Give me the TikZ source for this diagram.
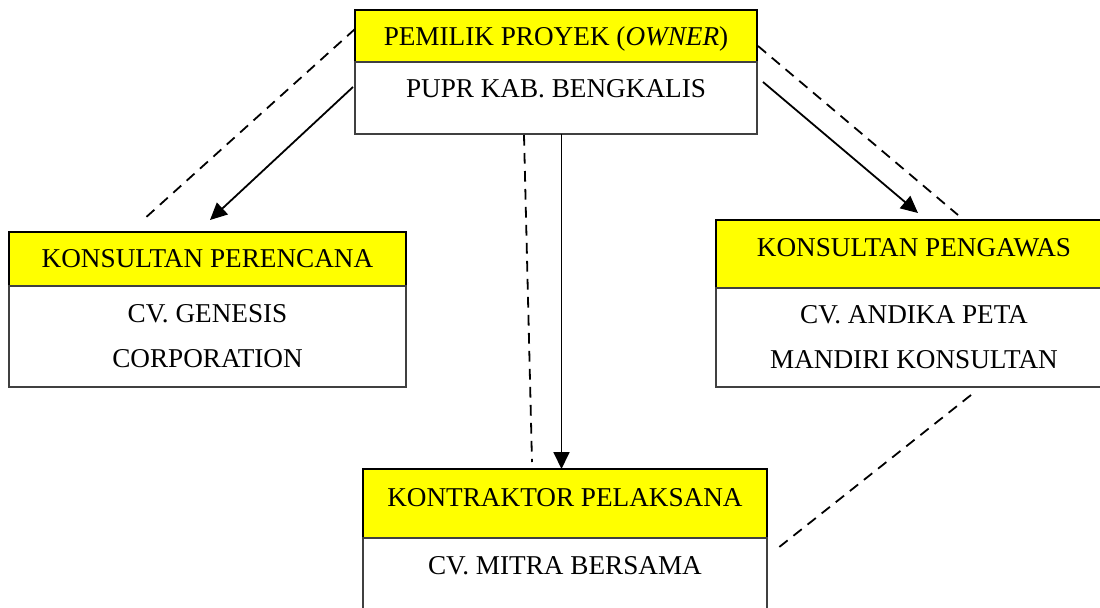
\documentclass[tikz,border=0pt]{standalone}
\usepackage{fontspec}
\setmainfont{Liberation Serif}
\usetikzlibrary{arrows.meta, positioning, calc}
\definecolor{hdyellow}{RGB}{255,255,0}

\begin{document}
\begin{tikzpicture}[
    x=0.5pt, y=-0.5pt,
    node distance=0pt,
    font=\fontsize{13.6}{22.5}\selectfont,
    headbox/.style={rectangle, draw=black, line width=1pt, fill=hdyellow, outer sep=0pt, align=center},
    bodybox/.style={rectangle, draw=black!75, line width=0.6pt, fill=white, outer sep=0pt, align=center},
    lift/.style={text height=9pt, text depth=#1},
    arrow/.style={-{Triangle[length=8.5pt, width=8pt]}, line width=0.9pt},
    dashline/.style={line width=0.9pt, dash pattern=on 5.3pt off 3.7pt}
]
\useasboundingbox (0,0) rectangle (1100,607);
\clip (0,0) rectangle (1100,607);

% owner
\node[headbox, anchor=north west, minimum width=201pt, minimum height=26pt, lift=0pt] (ownerhead) at (355,10) {PEMILIK PROYEK (\textit{OWNER})};
\node[bodybox, below=of ownerhead, minimum width=201pt, minimum height=36pt, lift=10pt] (ownerbody) {PUPR KAB. BENGKALIS};

% consultants
\node[headbox, anchor=north west, minimum width=198.5pt, minimum height=27pt, lift=1pt] (planhead) at (9,232) {KONSULTAN PERENCANA};
\node[bodybox, below=of planhead, minimum width=198.5pt, minimum height=50.5pt] (planbody) {CV. GENESIS\\CORPORATION};

\node[headbox, anchor=north west, minimum width=198pt, minimum height=34pt, lift=7pt] (supervhead) at (716,220) {KONSULTAN PENGAWAS};
\node[bodybox, below=of supervhead, minimum width=198pt, minimum height=49.5pt] (supervbody) {CV. ANDIKA PETA\\MANDIRI KONSULTAN};

% contractor
\node[headbox, anchor=north west, minimum width=202pt, minimum height=34.5pt, lift=6.5pt] (contrhead) at (363,469) {KONTRAKTOR PELAKSANA};
\node[bodybox, below=of contrhead, minimum width=202pt, minimum height=43.5pt, lift=16.5pt] (contrbody) {CV. MITRA BERSAMA};

\draw[dashline] ($(ownerhead.west)+(0,-7)$) -- ($(planhead.north)+(-64.5,-12)$);
\draw[arrow] ($(ownerbody.west)+(-2,-11)$) -- ($(planhead.north)+(2.5,-12)$);
\draw[dashline] ($(ownerhead.east)+(1,10)$) -- ($(supervhead.north)+(44,-5)$);
\draw[arrow] ($(ownerbody.east)+(6,-16)$) -- ($(supervhead.north)+(4,-7)$);
\draw[dashline] ($(ownerbody.south)+(-32,1)$) -- ($(contrhead.north)+(-33,-7)$);
\draw[arrow] ($(ownerbody.south)+(5.5,0)$) -- ($(contrhead.north)+(-3.5,0)$);
\draw[dashline] ($(supervbody.south)+(57,8)$) -- ($(contrbody.north east)+(11,10)$);
\end{tikzpicture}
\end{document}
